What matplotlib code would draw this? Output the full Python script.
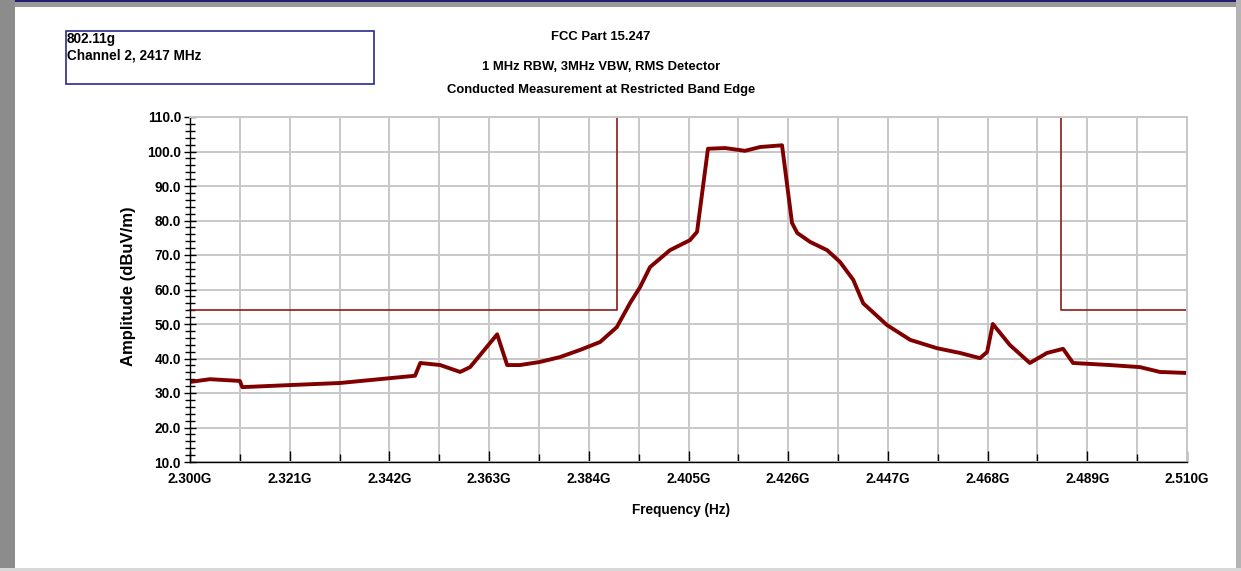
import matplotlib.pyplot as plt
from matplotlib.patches import Rectangle
from matplotlib.ticker import FixedLocator, MultipleLocator

plt.rcParams['font.family'] = ['Liberation Sans', 'DejaVu Sans']

# trace (GHz, dBuV/m)
freq_ghz = [2.3000, 2.3042, 2.3105, 2.3110, 2.3211, 2.3316, 2.3421, 2.3474,
            2.3485, 2.3527, 2.3569, 2.3590, 2.3611, 2.3647, 2.3668, 2.3695,
            2.3737, 2.3779, 2.3822, 2.3864, 2.3899, 2.3927, 2.3948, 2.3969,
            2.4011, 2.4053, 2.4068, 2.4091, 2.4127, 2.4169, 2.4201, 2.4247,
            2.4268, 2.4279, 2.4306, 2.4342, 2.4369, 2.4397, 2.4418, 2.4468,
            2.4517, 2.4573, 2.4622, 2.4664, 2.4679, 2.4691, 2.4727, 2.4769,
            2.4805, 2.4839, 2.4860, 2.4938, 2.5001, 2.5043, 2.5100]
level_dbuv = [33.2, 34.0, 33.5, 31.7, 32.3, 32.9, 34.3, 35.0,
              38.7, 38.1, 36.1, 37.5, 41.0, 47.0, 38.1, 38.1,
              39.0, 40.4, 42.5, 44.8, 49.1, 56.1, 60.7, 66.5,
              71.4, 74.3, 76.7, 100.8, 101.0, 100.2, 101.3, 101.8,
              79.3, 76.4, 73.8, 71.4, 68.0, 62.8, 56.0, 49.7,
              45.4, 43.0, 41.6, 40.1, 41.9, 50.0, 43.9, 38.7,
              41.6, 42.8, 38.7, 38.1, 37.5, 36.1, 35.8]

# restricted band limits
limit_level = 54.0
band_edge_low = 2.390
band_edge_high = 2.4835

x_ticks = [2.300, 2.321, 2.342, 2.363, 2.384, 2.405, 2.426, 2.447, 2.468, 2.489, 2.510]
title_lines = ["FCC Part 15.247",
               "1 MHz RBW, 3MHz VBW, RMS Detector",
               "Conducted Measurement at Restricted Band Edge"]
info_lines = ["802.11g", "Channel 2, 2417 MHz"]

W, H = 1241, 571
fig = plt.figure(figsize=(W / 100, H / 100), dpi=100)
fig.patch.set_facecolor('white')

# window frame
fig.patches.append(Rectangle((0, 1 - 7 / H), 1, 7 / H, transform=fig.transFigure,
                             facecolor='#9a9a9a', edgecolor='none'))
fig.patches.append(Rectangle((0, 1 - 2 / H), 1, 2 / H, transform=fig.transFigure,
                             facecolor='#20206e', edgecolor='none'))
fig.patches.append(Rectangle((0, 0), 15 / W, 1, transform=fig.transFigure,
                             facecolor='#8c8c8c', edgecolor='none'))
fig.patches.append(Rectangle((1236 / W, 0), 5 / W, 1, transform=fig.transFigure,
                             facecolor='#b4b4b4', edgecolor='none'))
fig.patches.append(Rectangle((0, 0), 1, 3 / H, transform=fig.transFigure,
                             facecolor='#d8d8d8', edgecolor='none'))

# info box
fig.patches.append(Rectangle((66 / W, 1 - 84 / H), 308 / W, 53 / H, transform=fig.transFigure,
                             facecolor='none', edgecolor='#2a2a8c', linewidth=1.2))
for txt, ypix in zip(info_lines, [39, 55]):
    fig.text(67 / W, 1 - ypix / H, txt, ha='left', va='center', fontsize=9.8,
             fontweight='bold')

# titles
for txt, ypix in zip(title_lines, [37, 67, 90]):
    fig.text(601 / W, 1 - ypix / H, txt, ha='center', va='center', fontsize=9.4,
             fontweight='bold')

ax = fig.add_axes([190 / W, 1 - 462 / H, 997 / W, 345 / H])
ax.set_xlim(2.300, 2.510)
ax.set_ylim(10, 110)

ax.xaxis.set_major_locator(FixedLocator(x_ticks))
ax.xaxis.set_minor_locator(FixedLocator([t + 0.0105 for t in x_ticks[:-1]]))
ax.set_xticklabels(['%.3fG' % t for t in x_ticks])
ax.yaxis.set_major_locator(MultipleLocator(10))
ax.yaxis.set_minor_locator(MultipleLocator(2))
ax.set_yticklabels(['%.1f' % v for v in ax.get_yticks()])

ax.grid(True, which='major', color='#c8c8c8', linewidth=1.4)
ax.grid(True, which='minor', axis='x', color='#c8c8c8', linewidth=1.4)
ax.set_axisbelow(True)

for side in ['top', 'right']:
    ax.spines[side].set_color('#c8c8c8')
    ax.spines[side].set_linewidth(1.4)
for side in ['left', 'bottom']:
    ax.spines[side].set_color('black')
    ax.spines[side].set_linewidth(1.0)

ax.tick_params(axis='y', which='major', direction='inout', length=9, width=1.0,
               labelsize=9.8, pad=2)
ax.tick_params(axis='y', which='minor', direction='inout', length=7, width=1.0)
ax.tick_params(axis='x', which='major', direction='in', length=8, width=1.0,
               labelsize=9.8, pad=7)
ax.tick_params(axis='x', which='minor', direction='in', length=6, width=1.0)
for lab in ax.get_xticklabels() + ax.get_yticklabels():
    lab.set_fontweight('bold')

# limit lines
lim_color = '#8b1a1a'
ax.plot([2.300, band_edge_low, band_edge_low], [limit_level, limit_level, 110],
        color=lim_color, linewidth=1.2, clip_on=False)
ax.plot([band_edge_high, band_edge_high, 2.510], [110, limit_level, limit_level],
        color=lim_color, linewidth=1.2, clip_on=False)

# measured trace
ax.plot(freq_ghz, level_dbuv, color='#800000', linewidth=2.8, solid_joinstyle='round')

ax.set_xlabel('Frequency (Hz)', fontsize=9.8, fontweight='bold')
ax.xaxis.set_label_coords(491 / 997, -41 / 345)
ax.set_ylabel('Amplitude (dBuV/m)', fontsize=12, fontweight='bold')
ax.yaxis.set_label_coords(-54 / 997, 0.5 - (286 - 289.5) / 345)

fig.savefig('out.png', dpi=100)
